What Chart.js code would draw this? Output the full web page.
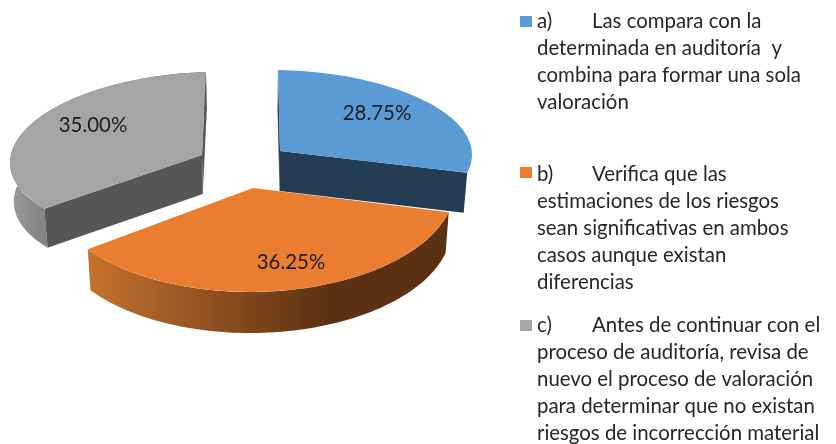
<!DOCTYPE html>
<html><head><meta charset="utf-8">
<style>html,body{margin:0;padding:0;background:#fff}canvas{display:block}</style>
<script src="https://cdn.jsdelivr.net/npm/chart.js@4"></script>
</head><body><canvas id="c" width="836" height="444"></canvas>
<script>
const categories = [
  "a)\tLas compara con la determinada en auditoría  y combina para formar una sola valoración",
  "b)\tVerifica que las estimaciones de los riesgos sean significativas en ambos casos aunque existan diferencias",
  "c)\tAntes de continuar con el proceso de auditoría, revisa de nuevo el proceso de valoración para determinar que no existan riesgos de incorrección material"
];
const values = [28.75, 36.25, 35.00];
const topColors = ["#5B9BD5", "#EB7D31", "#A5A5A5"];

// Layout only: how each exploded wedge is tilted on screen (not data).
const wedges = [
  {apex:[280,151], mx:[192,3],   my:[2,81],    depth:40, cut:"#243C54", wall:null},
  {apex:[253,188], mx:[202,0],   my:[-3,104],  depth:41, cut:null, wall:[[0,"#C7722E"],[0.67,"#5C3012"],[1,"#5C3012"]]},
  {apex:[202,155], mx:[192,-6],  my:[-4,83],   depth:39, cut:"#565656", wall:[[0,"#9A9A9A"],[0.2,"#808080"],[1,"#565656"]]}
];
const labelAt = [[377,113],[291,262],[93,125]];
const legendFont = "20.4px Lato";
const legendLayout = [
  {box:[520,16], first:21, lines:["Las compara con la","determinada en auditoría  y","combina para formar una sola","valoración"]},
  {box:[520,167], first:174, lines:["Verifica que las","estimaciones de los riesgos","sean significativas en ambos","casos aunque existan","diferencias"]},
  {box:[520,320], first:325, lines:["Antes de continuar con el","proceso de auditoría, revisa de","nuevo el proceso de valoración","para determinar que no existan","riesgos de incorrección material"]}
];
const converge = 0.016; // the lower rim leans toward the middle of the pie

function project(w, a){
  const c=Math.cos(a), s=Math.sin(a);
  return [w.apex[0]+c*w.mx[0]+s*w.my[0], w.apex[1]+c*w.mx[1]+s*w.my[1]];
}
function wallPath(ctx, w, pts){
  ctx.beginPath();
  pts.forEach((p,i)=> i?ctx.lineTo(p[0],p[1]):ctx.moveTo(p[0],p[1]));
  for(let i=pts.length-1;i>=0;i--) ctx.lineTo(pts[i][0]-(pts[i][0]-250)*converge,pts[i][1]+w.depth);
  ctx.closePath();
}
const tilted = {
  id:"tilted",
  beforeDatasetDraw(chart,args){
    const ctx=chart.ctx, arcs=chart.getDatasetMeta(args.index).data;
    [2,0,1].forEach(i=>{
      const arc=arcs[i], w=wedges[i];
      const {startAngle:a0,endAngle:a1}=arc;
      const steps=90, rim=[];
      for(let k=0;k<=steps;k++) rim.push(project(w,a0+(a1-a0)*k/steps));
      if(w.wall){
        const xs=rim.map(p=>p[0]);
        const g=ctx.createLinearGradient(Math.min(...xs),0,Math.max(...xs),0);
        w.wall.forEach(s=>g.addColorStop(s[0],s[1]));
        ctx.fillStyle=g; wallPath(ctx,w,rim); ctx.fill();
      }
      if(w.cut){
        ctx.fillStyle=w.cut;
        [rim[0],rim[steps]].forEach(p=>{ wallPath(ctx,w,[w.apex,p]); ctx.fill(); });
      }
      // top surface: the library's own arc under the tilt
      const R=arc.outerRadius;
      ctx.save();
      ctx.translate(w.apex[0],w.apex[1]);
      ctx.transform(w.mx[0]/R,w.mx[1]/R,w.my[0]/R,w.my[1]/R,0,0);
      ctx.translate(-arc.x,-arc.y);
      arc.draw(ctx,chart.chartArea);
      ctx.restore();
    });
    return false;
  },
  afterDraw(chart){
    const ctx=chart.ctx;
    ctx.save();
    ctx.textBaseline="middle";
    ctx.fillStyle="#1c1c1c"; ctx.textAlign="center"; ctx.font="20.4px Lato";
    values.forEach((v,i)=>ctx.fillText(v.toFixed(2)+"%",labelAt[i][0],labelAt[i][1]));
    ctx.textAlign="left"; ctx.font=legendFont;
    legendLayout.forEach((l,i)=>{
      ctx.fillStyle=topColors[i];
      ctx.fillRect(l.box[0],l.box[1],12,11);
      ctx.fillStyle="#262626";
      const tag=categories[i].split("\t")[0];
      ctx.fillText(tag,537,l.first);
      l.lines.forEach((t,k)=>ctx.fillText(t,k?537:592,l.first+k*27.1));
    });
    ctx.restore();
  }
};
new Chart(document.getElementById("c"),{
  type:"pie",
  data:{labels:categories,datasets:[{data:values,backgroundColor:topColors,borderWidth:0}]},
  options:{responsive:false,animation:false,
    plugins:{legend:{display:false},tooltip:{enabled:false}}},
  plugins:[tilted]
});
</script></body></html>
